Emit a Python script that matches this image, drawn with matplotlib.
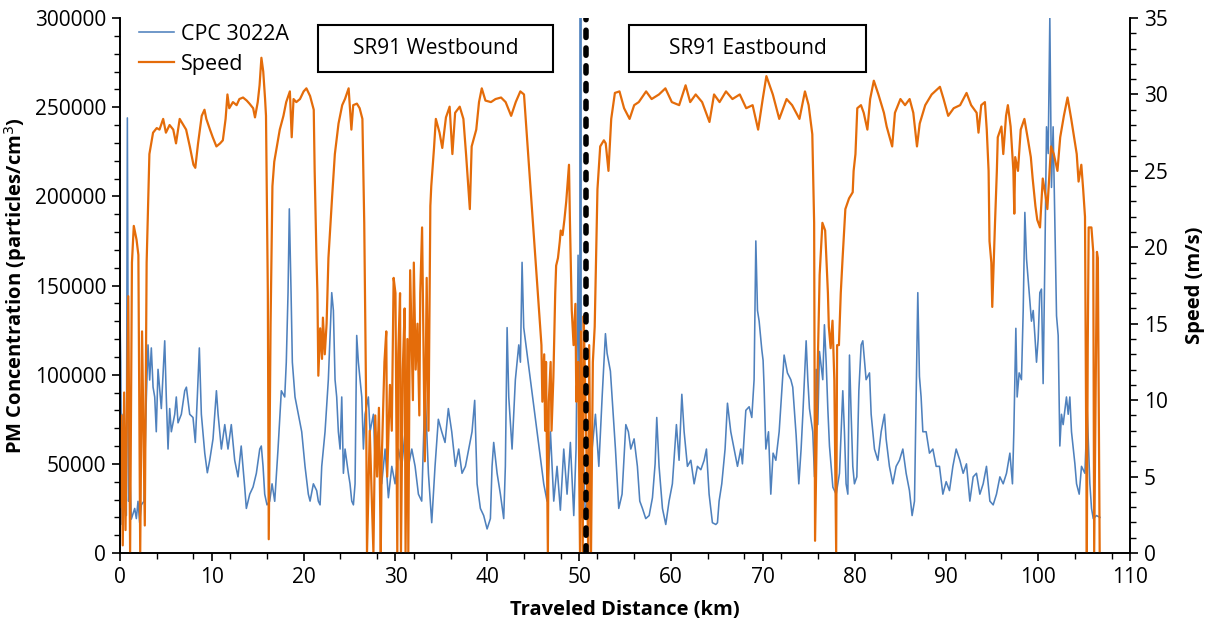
import matplotlib
matplotlib.use("Agg")
import matplotlib.pyplot as plt
from matplotlib.patches import Rectangle
from matplotlib.ticker import MultipleLocator

# values (km, particles/cm3, m/s)
dist_cpc = [0.0, 0.08, 0.22, 0.33, 0.5, 0.69, 0.8, 0.94, 1.05, 1.23, 1.6, 1.78, 1.96, 2.14, 2.32, 2.61,
            2.87, 3.05, 3.23, 3.41, 3.6, 3.78, 3.95, 4.14, 4.5, 4.87, 5.04, 5.23, 5.41, 5.59, 5.96,
            6.13, 6.32, 6.68, 7.05, 7.23, 7.59, 7.95, 8.2, 8.42, 8.64, 8.86, 9.23, 9.51, 9.77, 10.13,
            10.5, 10.68, 11.04, 11.41, 11.76, 12.12, 12.49, 12.85, 13.2, 13.58, 13.76, 14.13, 14.49,
            14.85, 15.22, 15.39, 15.58, 15.76, 16.01, 16.3, 16.56, 16.85, 17.21, 17.57, 17.94, 18.11,
            18.3, 18.44, 18.63, 18.77, 19.06, 19.42, 19.79, 20.15, 20.51, 20.7, 21.06, 21.42, 21.6,
            21.79, 21.97, 22.33, 22.69, 23.06, 23.24, 23.42, 23.6, 23.78, 23.97, 24.15, 24.33, 24.51,
            24.87, 25.05, 25.24, 25.42, 25.6, 25.78, 25.96, 26.14, 26.33, 26.51, 26.69, 27.05, 27.23,
            27.6, 27.78, 28.14, 28.5, 28.87, 29.23, 29.6, 29.96, 30.32, 30.69, 31.05, 31.41, 31.78,
            32.14, 32.5, 32.86, 33.22, 33.59, 33.95, 34.31, 34.67, 35.04, 35.4, 35.76, 36.13, 36.53,
            36.89, 37.25, 37.62, 37.98, 38.34, 38.63, 38.89, 39.25, 39.61, 39.98, 40.34, 40.52, 40.7,
            41.07, 41.43, 41.79, 41.97, 42.16, 42.34, 42.7, 43.06, 43.43, 43.61, 43.79, 43.97, 46.15,
            46.51, 46.88, 47.24, 47.6, 47.96, 48.33, 48.69, 49.05, 49.42, 49.67, 49.89, 50.08, 50.2,
            50.22, 50.51, 50.69, 51.05, 51.42, 51.78, 52.15, 52.51, 52.87, 53.05, 53.41, 53.78, 53.96,
            54.32, 54.68, 55.09, 55.37, 55.63, 55.99, 56.35, 56.61, 56.9, 57.26, 57.63, 57.99, 58.28,
            58.46, 58.71, 59.08, 59.44, 59.8, 60.16, 60.6, 60.89, 61.19, 61.44, 61.8, 62.17, 62.53,
            62.89, 63.26, 63.62, 63.87, 64.16, 64.52, 64.89, 65.07, 65.25, 65.54, 65.9, 66.16, 66.52,
            66.88, 67.25, 67.61, 67.79, 68.16, 68.52, 68.81, 69.06, 69.25, 69.43, 69.61, 69.9, 70.04,
            70.15, 70.34, 70.63, 70.88, 71.13, 71.43, 71.79, 72.15, 72.33, 72.69, 73.06, 73.27, 73.45,
            73.64, 73.93, 74.18, 74.37, 74.73, 74.91, 75.09, 75.45, 75.64, 75.82, 76.0, 76.18, 76.54,
            76.72, 76.91, 77.09, 77.27, 77.45, 77.64, 78.0, 78.36, 78.54, 78.72, 78.9, 79.08, 79.27,
            79.45, 79.63, 79.81, 79.99, 80.25, 80.47, 80.72, 80.9, 81.26, 81.63, 81.81, 82.17, 82.54,
            82.9, 83.26, 83.44, 83.8, 84.17, 84.53, 84.89, 85.26, 85.62, 85.98, 86.27, 86.53, 86.71,
            86.89, 87.07, 87.25, 87.44, 87.8, 88.16, 88.53, 88.89, 89.25, 89.62, 89.98, 90.34, 90.71,
            91.07, 91.47, 91.83, 92.19, 92.56, 92.92, 93.28, 93.65, 94.01, 94.37, 94.74, 95.1, 95.46,
            95.83, 96.19, 96.55, 96.92, 97.2, 97.35, 97.57, 97.71, 97.93, 98.18, 98.37, 98.55, 98.73,
            99.02, 99.27, 99.46, 99.64, 99.82, 100.0, 100.18, 100.36, 100.54, 100.73, 100.91, 101.09,
            101.27, 101.45, 101.63, 101.82, 102.0, 102.18, 102.36, 102.54, 102.72, 103.08, 103.27,
            103.45, 103.63, 104.0, 104.18, 104.47, 104.72, 105.09, 105.34, 105.63, 105.81, 106.0,
            106.35, 106.72]
cpc = [132000, 107000, 16000, 77800, 48600, 21000, 244000, 29000, 48600, 19000, 25000, 19300, 29000,
       17000, 27000, 29000, 87500, 116700, 97000, 115000, 93000, 87500, 68000, 103000, 81000, 119000,
       87500, 58300, 81000, 68000, 77800, 87500, 73000, 77800, 91000, 93000, 77800, 76000, 62000,
       87500, 115000, 77800, 56000, 45000, 52000, 64000, 91000, 77800, 58300, 72000, 58300, 72000,
       52000, 42700, 60000, 37000, 25000, 33000, 37000, 44700, 58300, 60000, 48600, 33000, 27000,
       29000, 38800, 29000, 58300, 91000, 87500, 107000, 146000, 193000, 146000, 107000, 87500, 77800,
       68000, 48600, 33000, 29100, 38800, 35000, 29100, 27000, 48600, 68000, 97200, 146000, 136000,
       97200, 87500, 68000, 58300, 87500, 44700, 58300, 44700, 38800, 29100, 27000, 38800, 122000,
       107000, 97200, 87500, 58300, 77800, 87500, 68000, 77800, 52000, 68000, 38800, 58300, 31000,
       48600, 38800, 58300, 48600, 68000, 48600, 58300, 48600, 33000, 29100, 92000, 44700, 17000,
       48600, 75000, 68000, 62000, 81000, 68000, 48600, 58300, 44700, 48600, 58300, 68000, 85600,
       38800, 25000, 21000, 13500, 19300, 48600, 62000, 44700, 33000, 19300, 48600, 126400, 87500,
       58300, 97200, 116700, 107000, 163000, 126400, 38800, 29100, 68000, 29100, 48600, 24000, 58300,
       33000, 62000, 21000, 58300, 167000, 40000, 2000000, 20000, 48600, 19300, 38800, 58300, 77800,
       48600, 87500, 123000, 112000, 102000, 72000, 58300, 25000, 33000, 72000, 68000, 58300, 64000,
       48600, 29100, 25000, 19300, 21000, 31000, 50000, 76000, 48600, 25000, 16000, 29100, 38800,
       72000, 52000, 89000, 68000, 48600, 52000, 38800, 48600, 46700, 52000, 58300, 33000, 17000,
       16000, 17000, 29100, 38800, 58300, 84000, 68000, 58300, 48600, 58300, 50000, 80000, 82000,
       76000, 97200, 175000, 136000, 130000, 114000, 108000, 93000, 58300, 68000, 33000, 56000,
       52000, 68000, 97200, 111000, 101000, 97200, 93000, 80000, 66000, 38800, 58300, 77800, 119000,
       97200, 81000, 68000, 42700, 103000, 72000, 113000, 97200, 128000, 107000, 81000, 60000, 48600,
       36900, 33000, 44700, 68000, 91000, 68000, 38800, 33000, 111000, 77800, 48600, 38800, 42700,
       91000, 116700, 119000, 97200, 101000, 77800, 58300, 52000, 68000, 77800, 64000, 48600, 38800,
       48600, 52000, 58300, 44700, 35000, 21000, 29100, 87500, 146000, 99000, 87500, 68000, 68000,
       56000, 58300, 48600, 48600, 33000, 40000, 35000, 48600, 58300, 52000, 44700, 50000, 29100,
       42700, 44700, 33000, 38800, 48600, 29100, 27000, 33000, 42700, 38800, 44700, 56000, 38800,
       68000, 126000, 87500, 101000, 97200, 136000, 191000, 165000, 146000, 130000, 136000, 122000,
       107000, 120000, 146000, 148000, 95000, 165000, 239000, 224000, 300000, 205000, 239000, 185000,
       133000, 122000, 60000, 77800, 72000, 87500, 77800, 87500, 68000, 50000, 38800, 33000, 48600,
       44700, 80000, 38800, 25000, 19300, 21000, 20000]

dist_speed = [0.0, 0.15, 0.3, 0.45, 0.6, 0.9, 1.1, 1.3, 1.5, 1.8, 2.0, 2.2, 2.4, 2.7, 2.9, 3.2, 3.6,
              4.0, 4.3, 4.7, 5.0, 5.4, 5.8, 6.1, 6.5, 6.9, 7.2, 7.6, 8.0, 8.2, 8.5, 8.9, 9.2, 9.4,
              9.8, 10.1, 10.5, 10.9, 11.2, 11.5, 11.7, 11.9, 12.3, 12.7, 13.0, 13.4, 13.8, 14.1,
              14.5, 14.7, 15.0, 15.2, 15.4, 15.6, 15.8, 15.9, 16.1, 16.2, 16.4, 16.6, 16.8, 17.0,
              17.4, 17.8, 18.1, 18.5, 18.7, 18.9, 19.2, 19.6, 20.0, 20.3, 20.7, 21.1, 21.2, 21.4,
              21.5, 21.6, 21.8, 22.0, 22.1, 22.3, 22.5, 22.7, 23.1, 23.4, 23.8, 24.2, 24.5, 24.9,
              25.2, 25.4, 25.8, 26.1, 26.4, 26.6, 26.8, 26.9, 27.2, 27.4, 27.6, 27.8, 28.0, 28.2,
              28.4, 28.5, 28.8, 29.0, 29.1, 29.4, 29.6, 29.8, 30.0, 30.2, 30.3, 30.5, 30.6, 30.8,
              31.0, 31.1, 31.3, 31.4, 31.6, 31.9, 32.0, 32.2, 32.4, 32.6, 32.7, 32.9, 33.2, 33.4,
              33.6, 33.8, 33.9, 34.2, 34.4, 34.8, 35.1, 35.5, 35.9, 36.2, 36.5, 37.0, 37.4, 37.7,
              38.1, 38.3, 38.8, 39.1, 39.4, 39.8, 40.4, 40.9, 41.5, 42.0, 42.6, 43.1, 43.6, 44.0,
              45.9, 46.0, 46.2, 46.3, 46.4, 46.6, 46.7, 46.9, 47.0, 47.2, 47.4, 47.5, 47.7, 47.9,
              48.0, 48.2, 48.4, 48.6, 48.9, 49.0, 49.2, 49.4, 49.6, 49.7, 49.9, 50.1, 50.2, 50.4,
              50.5, 50.7, 51.0, 51.1, 51.3, 51.5, 51.7, 52.0, 52.3, 52.7, 52.9, 53.2, 53.5, 53.9,
              54.4, 54.9, 55.5, 56.0, 56.5, 57.3, 57.9, 58.7, 59.4, 60.1, 60.9, 61.6, 62.1, 62.7,
              63.4, 64.2, 64.7, 65.3, 66.0, 66.7, 67.5, 68.2, 68.9, 69.5, 70.0, 70.4, 71.1, 71.8,
              72.6, 73.2, 74.0, 74.6, 75.0, 75.4, 75.6, 75.7, 76.0, 76.2, 76.5, 76.8, 77.1, 77.2,
              77.4, 77.6, 77.8, 78.0, 78.1, 78.3, 78.5, 78.7, 79.0, 79.4, 79.8, 79.9, 80.1, 80.3,
              80.7, 81.0, 81.4, 81.7, 82.1, 82.6, 83.2, 83.5, 84.1, 84.4, 85.0, 85.5, 86.0, 86.4,
              86.8, 87.1, 87.7, 88.4, 89.3, 89.7, 90.2, 90.8, 91.5, 92.2, 92.7, 93.3, 93.5, 93.8,
              94.2, 94.4, 94.6, 94.7, 94.9, 95.0, 95.3, 95.5, 95.6, 96.0, 96.2, 96.5, 96.7, 97.0,
              97.3, 97.4, 97.5, 97.8, 98.1, 98.5, 98.9, 99.2, 99.4, 99.7, 99.9, 100.2, 100.5,
              100.8, 101.0, 101.4, 101.7, 102.1, 102.4, 102.8, 103.2, 103.6, 104.2, 104.4, 104.7,
              104.9, 105.1, 105.3, 105.4, 105.5, 105.8, 106.0, 106.1, 106.4, 106.5, 106.7]
speed = [3, 9, 0.5, 10.5, 1.5, 16.8, 0, 19, 21.4, 20.5, 19.5, 0, 14.5, 1.8, 19, 26.1, 27.5,
         27.8, 27.7, 28.4, 27.5, 28.0, 27.7, 26.8, 28.4, 28.0, 27.7, 26.6, 25.4, 25.2, 26.8, 28.6, 29.0, 28.4,
         27.7, 27.2, 26.6, 26.8, 27.0, 28.4, 30.0, 29.1, 29.5, 29.3, 29.7, 29.8, 29.6, 29.4,
         29.1, 28.5, 29.5, 30.6, 32.4, 31.5, 29.7, 28.6, 17, 0.9, 15, 24, 25.6, 26.3,
         27.7, 28.6, 29.5, 30.2, 27.2, 29.7, 29.5, 29.7, 30.2, 30.4, 29.9, 29.0, 25, 19.3,
         17, 11.6, 14.7, 12.7, 15.4, 13.0, 15.0, 19.3, 23.3, 26.1, 28.1, 29.3, 29.7, 30.4,
         27.7, 29.3, 29.4, 29.1, 28.4, 21.6, 10.2, 0, 8, 4, 0, 9, 5, 9.5,
         0, 6, 12.5, 14.5, 5, 11, 8, 18, 17, 0, 13, 17, 0, 12,
         16, 0, 14, 0, 18.5, 10, 19, 12, 15, 9, 17, 21.3, 6, 18,
         8, 22.7, 24, 26.5, 28.4, 27.5, 26.5, 28.5, 29.2, 26.1, 28.8, 29.2, 28.4, 26,
         22.5, 26.6, 27.7, 29.5, 30.4, 29.6, 29.5, 29.7, 29.8, 29.5, 28.6, 29.5, 30.2, 30.0,
         13.6, 9.9, 13, 8, 12.5, 0, 9.9, 12.5, 8, 11.5, 17, 18.8, 19.3, 20.4,
         21.1, 20.8, 21.8, 23, 25.4, 21.8, 15.9, 13.6, 16.3, 9.9, 12.5, 0, 14.5, 0,
         15.5, 9.9, 0, 13.6, 0, 12.5, 14.8, 23.8, 26.6, 27.0, 26.8, 25.0, 28.4, 30.1,
         30.2, 29.1, 28.4, 29.3, 29.5, 30.2, 29.7, 30.0, 30.4, 29.5, 29.3, 30.6, 29.5, 30.0,
         29.5, 28.2, 30.0, 29.5, 30.2, 29.7, 30.0, 29.1, 29.3, 27.7, 29.7, 31.2, 30.0, 28.4,
         29.7, 29.3, 28.4, 30.2, 29.3, 27.4, 21.6, 0.8, 12.5, 18.2, 21.6, 21.1, 17, 14.8,
         13.4, 15.2, 11.3, 0, 13.6, 13.6, 17, 19.3, 22.5, 23.2, 23.6, 25, 26.1, 29.1,
         29.3, 28.8, 27.7, 29.7, 30.9, 30.0, 28.8, 27.9, 26.6, 28.8, 29.7, 29.3, 29.7, 28.8,
         26.6, 28.1, 29.3, 30.0, 30.5, 29.7, 28.6, 29.1, 29.3, 30.1, 29.3, 28.8, 27.5, 29.3,
         29.5, 27.7, 25, 20.4, 19, 16.1, 21.6, 25, 27.2, 27.9, 26.1, 28.6, 29.3, 27.9,
         25, 22.2, 25.9, 25, 27.7, 28.4, 27.0, 25.9, 24.5, 22.7, 21.8, 21.3, 24.5,
         23.4, 22.5, 26.6, 26.1, 25, 27.2, 28.6, 29.8, 28.4, 26.1, 24.3, 25.4,
         23.8, 22, 0, 13.6, 21.3, 21.3, 19.7, 0, 19.7, 19.3, 0]

turnaround_km = 50.76
west_label = "SR91 Westbound"
east_label = "SR91 Eastbound"

plt.rcParams['font.family'] = ['Open Sans', 'DejaVu Sans']

fig = plt.figure(figsize=(12.11, 6.26), dpi=100)
ax = fig.add_axes([0.0991, 0.1166, 0.8340, 0.8546])
ax2 = ax.twinx()

line1, = ax.plot(dist_cpc, cpc, color="#4f81bd", lw=1.15, label="CPC 3022A")
line2, = ax2.plot(dist_speed, speed, color="#e46c0a", lw=1.6, label="Speed")

ax.set_xlim(0, 110)
ax.set_ylim(0, 300000)
ax2.set_ylim(0, 35)

ax.xaxis.set_major_locator(MultipleLocator(10))
ax.xaxis.set_minor_locator(MultipleLocator(4))
ax.yaxis.set_major_locator(MultipleLocator(50000))
ax.yaxis.set_minor_locator(MultipleLocator(10000))
ax2.yaxis.set_major_locator(MultipleLocator(5))
ax2.yaxis.set_minor_locator(MultipleLocator(1))

for a in (ax, ax2):
    a.spines["top"].set_visible(False)
    for s in a.spines.values():
        s.set_linewidth(1.2)
    a.tick_params(which="major", direction="out", length=6, width=1.2, labelsize=15, pad=4)
    a.tick_params(which="minor", direction="out", length=4, width=1.0)

ax.set_xlabel("Traveled Distance (km)", fontsize=14.5, fontweight="bold", labelpad=9)
ax.set_ylabel("PM Concentration (particles/cm$^3$)", fontsize=14.5, fontweight="bold", labelpad=4)
ax2.set_ylabel("Speed (m/s)", fontsize=14.5, fontweight="bold", labelpad=12)

# turnaround marker
ax2.axvline(turnaround_km, color="black", lw=4, linestyle=(0, (1.3, 1.9)),
            dash_capstyle="round", zorder=5)

# direction boxes
for x0, x1, txt in [(0.196, 0.429, west_label), (0.504, 0.739, east_label)]:
    ax2.add_patch(Rectangle((x0, 0.899), x1 - x0, 0.088, transform=ax2.transAxes,
                            facecolor="white", edgecolor="black", lw=1.5, zorder=6))
    ax2.text((x0 + x1) / 2, 0.943, txt, transform=ax2.transAxes, ha="center", va="center",
             fontsize=15, zorder=7)

ax2.legend([line1, line2], ["CPC 3022A", "Speed"], loc="upper left", bbox_to_anchor=(0.0, 1.025),
           frameon=False, fontsize=15.5, handlelength=1.6, handletextpad=0.35, labelspacing=0.4)

fig.savefig("out.png", dpi=100)
